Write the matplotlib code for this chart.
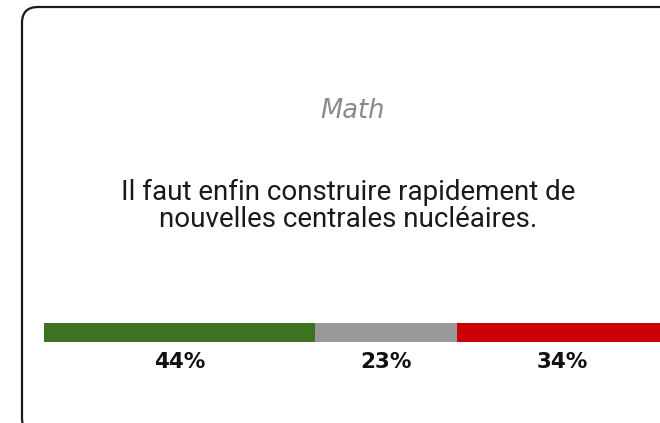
import matplotlib
matplotlib.use("Agg")
import matplotlib.pyplot as plt
from matplotlib.patches import FancyBboxPatch

# Data
subject = "Math"
statement_lines = ["Il faut enfin construire rapidement de",
                   "nouvelles centrales nucléaires."]
categories = ["Oui", "Neutre", "Non"]
values = [44, 23, 34]
labels = ["44%", "23%", "34%"]
colors = ["#3b7320", "#999999", "#cc0000"]

W, H = 660, 423
fig = plt.figure(figsize=(W / 100, H / 100), dpi=100)
fig.patch.set_facecolor("white")

# background axes in pixel coords for the rounded frame
bg = fig.add_axes([0, 0, 1, 1])
bg.set_xlim(0, W)
bg.set_ylim(H, 0)
bg.axis("off")
frame = FancyBboxPatch((22, 7), 700, 427,
                       boxstyle="round,pad=0,rounding_size=16",
                       facecolor="white", edgecolor="#1a1a1a", linewidth=1.6)
bg.add_patch(frame)

bg.text(353, 118, subject, ha="center", va="baseline", fontsize=18.5,
        style="italic", color="#8a8a8a", family="DejaVu Sans")
for i, line in enumerate(statement_lines):
    bg.text(348, 199.5 + i * 27.5, line, ha="center", va="baseline",
            fontsize=20, color="#1a1a1a", family="Roboto")

# bar axes
px_per_pct = 6.17
total = sum(values)
left_px = 44
bar_top, bar_bot = 322.5, 341.5
ax = fig.add_axes([left_px / W, 1 - bar_bot / H,
                   total * px_per_pct / W, (bar_bot - bar_top) / H])
ax.set_xlim(0, total)
ax.set_ylim(-0.5, 0.5)
ax.axis("off")
start = 0
for v, c, lab in zip(values, colors, labels):
    ax.barh(0, v, left=start, height=1.0, color=c, linewidth=0)
    ax.text(start + v / 2, -1.05, lab, transform=ax.transData,
            ha="center", va="top", fontsize=15.5, fontweight="bold",
            color="#111111", family="DejaVu Sans")
    start += v

fig.savefig("out.png", dpi=100, facecolor="white")
